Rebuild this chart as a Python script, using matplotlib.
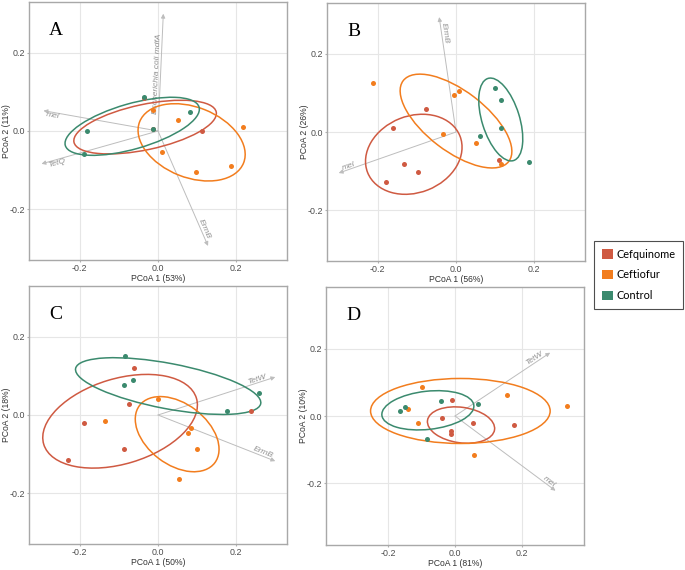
import matplotlib
matplotlib.use('Agg')
import matplotlib.pyplot as plt
from matplotlib.patches import Ellipse, Patch
import numpy as np

groups = ['Cefquinome', 'Ceftiofur', 'Control']
colors = ['#CF5A42', '#F27D1E', '#3B8A6E']

# ---- Panel A ----
A_cef_x = [-0.035, -0.014, 0.112]
A_cef_y = [0.085, 0.005, 0.0]
A_ctf_x = [-0.014, 0.052, 0.009, 0.097, 0.186, 0.217]
A_ctf_y = [0.055, 0.028, -0.054, -0.105, -0.089, 0.009]
A_ctl_x = [-0.036, -0.181, -0.189, 0.082, -0.014]
A_ctl_y = [0.087, 0.0, -0.060, 0.049, 0.004]
# ellipses (center, semi axes, angle) in group order
A_ell_cx = [-0.033, 0.086, -0.066]
A_ell_cy = [0.010, -0.029, 0.012]
A_ell_a = [0.186, 0.143, 0.178]
A_ell_b = [0.058, 0.090, 0.058]
A_ell_ang = [12, -21.6, 16]
A_vec_names = ['Escherichia coli mdfA', 'mel', 'TetQ', 'ErmB']
A_vec_x = [0.0136, -0.293, -0.298, 0.128]
A_vec_y = [0.300, 0.052, -0.084, -0.294]

# ---- Panel B ----
B_cef_x = [-0.161, -0.077, -0.132, -0.097, -0.180, 0.110]
B_cef_y = [0.009, 0.058, -0.083, -0.102, -0.128, -0.071]
B_ctf_x = [-0.212, -0.004, 0.008, -0.032, 0.052, 0.116]
B_ctf_y = [0.126, 0.094, 0.106, -0.005, -0.029, -0.081]
B_ctl_x = [0.099, 0.116, 0.116, 0.061, 0.186]
B_ctl_y = [0.112, 0.083, 0.009, -0.009, -0.077]
B_ell_cx = [-0.108, 0.000, 0.1145]
B_ell_cy = [-0.057, 0.028, 0.032]
B_ell_a = [0.127, 0.170, 0.110]
B_ell_b = [0.098, 0.077, 0.048]
B_ell_ang = [21.6, -37.4, -72.7]
B_vec_names = ['ErmB', 'mel']
B_vec_x = [-0.043, -0.300]
B_vec_y = [0.294, -0.105]

# ---- Panel C ----
C_cef_x = [-0.061, -0.075, -0.189, -0.230, -0.088, 0.238]
C_cef_y = [0.119, 0.029, -0.020, -0.114, -0.086, 0.011]
C_ctf_x = [0.000, -0.135, 0.084, 0.077, 0.099, 0.053]
C_ctf_y = [0.042, -0.016, -0.034, -0.047, -0.088, -0.165]
C_ctl_x = [-0.085, -0.063, -0.087, 0.177, 0.258]
C_ctl_y = [0.151, 0.090, 0.076, 0.011, 0.055]
C_ell_cx = [-0.097, 0.049, 0.026]
C_ell_cy = [-0.016, -0.049, 0.074]
C_ell_a = [0.204, 0.121, 0.241]
C_ell_b = [0.109, 0.078, 0.058]
C_ell_ang = [16.8, -37.4, -10.75]
C_vec_names = ['TetW', 'ErmB']
C_vec_x = [0.300, 0.300]
C_vec_y = [0.097, -0.118]

# ---- Panel D ----
D_cef_x = [-0.009, -0.040, -0.012, -0.012, 0.054, 0.176]
D_cef_y = [0.047, -0.006, -0.044, -0.054, -0.022, -0.028]
D_ctf_x = [-0.097, -0.139, -0.109, 0.058, 0.155, 0.334]
D_ctf_y = [0.086, 0.021, -0.020, -0.115, 0.064, 0.031]
D_ctl_x = [-0.163, -0.148, -0.041, 0.068, -0.083]
D_ctl_y = [0.016, 0.026, 0.045, 0.035, -0.070]
D_ell_cx = [0.018, 0.016, -0.081]
D_ell_cy = [-0.027, 0.015, 0.017]
D_ell_a = [0.101, 0.268, 0.138]
D_ell_b = [0.053, 0.097, 0.057]
D_ell_ang = [-7.9, 0, 6.2]
D_vec_names = ['TetW', 'mel']
D_vec_x = [0.284, 0.300]
D_vec_y = [0.189, -0.223]

ticks = [-0.2, 0.0, 0.2]
tick_labels = ['-0.2', '0.0', '0.2']

plt.rcParams['font.family'] = ['Liberation Sans', 'DejaVu Sans']

fig = plt.figure(figsize=(6.85, 5.7), dpi=100)
W, H = 685, 570


def add_ax(left, top, size=258):
    return fig.add_axes([left / W, 1 - (top + size) / H, size / W, size / H])


def draw_panel(ax, pts, ell, vecs, letter, xlab, ylab, lim, label_side, label_at):
    ax.set_xlim(-lim, lim)
    ax.set_ylim(-lim, lim)
    ax.set_xticks(ticks)
    ax.set_yticks(ticks)
    ax.set_xticklabels(tick_labels)
    ax.set_yticklabels(tick_labels)
    ax.grid(True, color='#e6e6e6', lw=0.8, zorder=0)
    ax.set_axisbelow(True)
    for s in ax.spines.values():
        s.set_color('#a8a8a8')
        s.set_linewidth(1.0)
    ax.tick_params(length=1.5, color='#b0b0b0', labelsize=6.4,
                   labelcolor='#4d4d4d', pad=1.5)
    ax.set_xlabel(xlab, fontsize=6.2, color='#333333', labelpad=0.5)
    ax.set_ylabel(ylab, fontsize=6.2, color='#333333')
    ax.yaxis.set_label_coords(-0.07, 0.5)

    # loadings arrows
    names, vx, vy = vecs
    for i, nm in enumerate(names):
        ax.annotate('', xy=(vx[i], vy[i]), xytext=(0, 0),
                    arrowprops=dict(arrowstyle='-|>', color='#bdbdbd',
                                    lw=0.7, mutation_scale=6,
                                    shrinkA=0, shrinkB=0), zorder=1)
        rot = np.degrees(np.arctan(vy[i] / vx[i]))
        f = label_at[i]
        ax.text(vx[i] * f, vy[i] * f, nm, rotation=rot,
                rotation_mode='anchor',
                ha='right' if vx[i] > 0 else 'left',
                va=label_side[i], fontsize=6, color='#8f8f8f',
                style='italic', zorder=2)

    # ellipses
    cx, cy, ea, eb, ang = ell
    for k in range(3):
        ax.add_patch(Ellipse((cx[k], cy[k]), 2 * ea[k], 2 * eb[k], angle=ang[k],
                             fill=False, ec=colors[k], lw=1.1, zorder=3))
    # points
    for k, (px, py) in enumerate(pts):
        ax.scatter(px, py, s=13, color=colors[k], lw=0, zorder=4)

    ax.text(0.105, 0.89, letter, transform=ax.transAxes, fontsize=14,
            family='Liberation Serif', ha='center', va='center')


axA = add_ax(29, 2)
draw_panel(axA,
           [(A_cef_x, A_cef_y), (A_ctf_x, A_ctf_y), (A_ctl_x, A_ctl_y)],
           (A_ell_cx, A_ell_cy, A_ell_a, A_ell_b, A_ell_ang),
           (A_vec_names, A_vec_x, A_vec_y),
           'A', 'PCoA 1 (53%)', 'PCoA 2 (11%)', 0.33,
           ['bottom', 'top', 'top', 'bottom'], [0.83, 0.97, 0.95, 0.95])

axB = add_ax(327, 3)
draw_panel(axB,
           [(B_cef_x, B_cef_y), (B_ctf_x, B_ctf_y), (B_ctl_x, B_ctl_y)],
           (B_ell_cx, B_ell_cy, B_ell_a, B_ell_b, B_ell_ang),
           (B_vec_names, B_vec_x, B_vec_y),
           'B', 'PCoA 1 (56%)', 'PCoA 2 (26%)', 0.33,
           ['bottom', 'bottom'], [0.95, 0.96])

axC = add_ax(29, 286)
draw_panel(axC,
           [(C_cef_x, C_cef_y), (C_ctf_x, C_ctf_y), (C_ctl_x, C_ctl_y)],
           (C_ell_cx, C_ell_cy, C_ell_a, C_ell_b, C_ell_ang),
           (C_vec_names, C_vec_x, C_vec_y),
           'C', 'PCoA 1 (50%)', 'PCoA 2 (18%)', 0.33,
           ['bottom', 'bottom'], [0.93, 0.97])

axD = add_ax(326, 287)
draw_panel(axD,
           [(D_cef_x, D_cef_y), (D_ctf_x, D_ctf_y), (D_ctl_x, D_ctl_y)],
           (D_ell_cx, D_ell_cy, D_ell_a, D_ell_b, D_ell_ang),
           (D_vec_names, D_vec_x, D_vec_y),
           'D', 'PCoA 1 (81%)', 'PCoA 2 (10%)', 0.385,
           ['bottom', 'bottom'], [0.94, 0.97])

# legend
handles = [Patch(facecolor=c, edgecolor='none') for c in colors]
leg = fig.legend(handles, groups, loc='upper left',
                 bbox_to_anchor=(594 / W, 1 - 241 / H, 89 / W, 0.0),
                 mode='expand', borderaxespad=0,
                 handlelength=1.05, handleheight=1.0, handletextpad=0.35,
                 labelspacing=0.9, borderpad=0.7, fancybox=False,
                 frameon=True, prop={'family': 'Lato', 'size': 7.8})
leg.get_frame().set_edgecolor('#222222')
leg.get_frame().set_linewidth(0.8)

fig.savefig('out.png', dpi=100)
